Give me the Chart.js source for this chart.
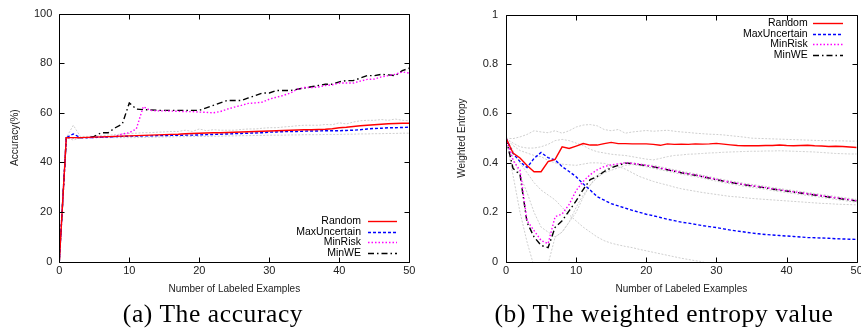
<!DOCTYPE html>
<html><head><meta charset="utf-8">
<script src="https://cdn.jsdelivr.net/npm/chart.js@4"></script>
<style>
html,body{margin:0;padding:0;background:#fff;width:861px;height:329px;overflow:hidden;position:relative}
.box{position:absolute;top:0}
.cap{position:absolute;font-family:"Liberation Serif",serif;font-size:25.5px;letter-spacing:0.6px;line-height:28px;color:#000;white-space:nowrap;transform:translateX(-50%)}
</style></head><body>
<div class="box" style="left:0;width:430px;height:300px"><canvas id="c1" width="430" height="300"></canvas></div>
<div class="box" style="left:430px;width:440px;height:300px"><canvas id="c2" width="440" height="300"></canvas></div>
<div class="cap" style="left:213px;top:300px">(a) The accuracy</div>
<div class="cap" style="left:664px;top:300px">(b) The weighted entropy value</div>
<script>
// ---------- data ----------
const xs = [0,1,2,3,4,5,6,7,8,9,10,11,12,13,14,15,16,17,18,19,20,21,22,23,24,25,26,27,28,29,30,31,32,33,34,35,36,37,38,39,40,41,42,43,44,45,46,47,48,49,50];
const seriesNames = ["Random","MaxUncertain","MinRisk","MinWE"];

// (a) accuracy (%)
const accRandom = [0,50,50,50,50.1,50.2,50.3,50.4,50.5,50.6,50.7,50.8,50.9,51,51.1,51.2,51.3,51.4,51.6,51.7,51.8,51.9,52,52,52.1,52.2,52.3,52.4,52.5,52.6,52.7,52.8,52.9,53,53.1,53.2,53.2,53.3,53.4,53.6,54,54.2,54.5,54.8,55,55.2,55.4,55.6,55.7,55.8,55.8];
const accMaxUnc = [0,50,51.5,50,50,50.1,50.2,50.3,50.4,50.5,50.6,50.6,50.7,50.7,50.8,50.8,50.9,50.9,51,51,51.1,51.2,51.3,51.4,51.5,51.6,51.7,51.8,51.9,52,52.2,52.3,52.4,52.5,52.5,52.6,52.7,52.7,52.8,52.8,52.8,52.9,53,53.2,53.5,53.7,53.8,54,54,54.1,54.2];
const accMinRisk = [0,50,50,50,50,50,50.2,50.3,50.5,51.5,52,53.5,62.5,61,60.8,60.8,60.7,60.6,60.5,60.5,60.3,60.2,60,60.5,61.5,62.3,63,63.8,64,64.3,65.5,66.3,67,68,69.5,70.2,70.2,70.4,71,71.3,72,72,72,72.8,73.5,73.6,74.5,75,75.5,76.5,76];
const accMinWE = [0,50,50,50,50,50.5,52,52,54,55.5,64,61.5,61.3,61.2,61,61,61,61,61,61,61,62,63,64,65,65,65,66,67,68,68,69,69,69,69.5,70,70.5,71,71.5,71.5,72.5,73,73,74,75,75,75.5,75.3,75,77,78];
const accRunHigh = [0,50,55,50.5,50.5,50.6,50.8,51,51.2,51.5,51.7,51.8,52,52,52.2,52.3,52.5,52.5,53,52.5,53.5,52.8,53.2,53,53,53,53.3,53.5,53.5,53.8,54,54,54.3,54.5,54.8,55,55,55,55.3,55.2,56,55.5,56.3,56.8,57,57,57.3,57,57.5,57,56.8];
const accRunLow = [0,50,49,50,50,50,50,50,50,50,50,50,50.1,50.2,50.2,50.3,50.3,50.4,50.4,50.5,50.5,50.5,50.6,50.6,50.7,50.7,50.8,50.8,50.9,50.9,51,51,51,51.1,51.1,51.2,51.2,51.2,51.3,51.3,51.3,51.4,51.4,51.5,51.5,51.6,51.6,51.7,51.7,51.8,51.8];

// (b) weighted entropy
const weRandom = [0.5,0.44,0.42,0.389,0.364,0.364,0.405,0.414,0.465,0.458,0.468,0.478,0.472,0.472,0.478,0.483,0.478,0.478,0.477,0.477,0.477,0.475,0.471,0.477,0.475,0.476,0.475,0.477,0.476,0.477,0.479,0.476,0.473,0.47,0.469,0.469,0.469,0.47,0.47,0.472,0.47,0.469,0.47,0.471,0.469,0.468,0.466,0.467,0.466,0.464,0.462];
const weMaxUnc = [0.5,0.438,0.405,0.381,0.418,0.442,0.421,0.412,0.385,0.365,0.344,0.315,0.29,0.263,0.249,0.235,0.226,0.217,0.208,0.2,0.192,0.186,0.179,0.172,0.166,0.16,0.156,0.151,0.146,0.142,0.138,0.133,0.128,0.124,0.12,0.116,0.113,0.11,0.108,0.106,0.104,0.102,0.1,0.098,0.097,0.096,0.095,0.093,0.092,0.091,0.09];
const weMinRisk = [0.5,0.41,0.37,0.166,0.126,0.086,0.073,0.182,0.193,0.232,0.288,0.325,0.352,0.372,0.385,0.392,0.396,0.4,0.398,0.394,0.39,0.385,0.379,0.373,0.367,0.361,0.356,0.351,0.345,0.339,0.333,0.327,0.322,0.317,0.312,0.308,0.304,0.3,0.295,0.291,0.287,0.283,0.279,0.275,0.271,0.267,0.263,0.259,0.255,0.251,0.247];
const weMinWE = [0.5,0.378,0.352,0.159,0.1,0.066,0.057,0.139,0.166,0.206,0.246,0.292,0.332,0.345,0.365,0.38,0.39,0.399,0.397,0.393,0.389,0.384,0.378,0.372,0.366,0.36,0.355,0.35,0.344,0.338,0.332,0.326,0.321,0.316,0.311,0.307,0.303,0.299,0.294,0.29,0.286,0.282,0.278,0.274,0.27,0.266,0.262,0.258,0.254,0.25,0.246];
const weRunA = [0.5,0.498,0.505,0.515,0.53,0.525,0.522,0.53,0.52,0.53,0.545,0.553,0.555,0.55,0.535,0.53,0.535,0.52,0.525,0.528,0.531,0.528,0.53,0.532,0.528,0.525,0.523,0.52,0.518,0.516,0.515,0.513,0.51,0.507,0.504,0.5,0.499,0.498,0.497,0.496,0.495,0.494,0.493,0.492,0.491,0.49,0.49,0.489,0.489,0.488,0.488];
const weRunB = [0.5,0.48,0.465,0.46,0.46,0.465,0.475,0.49,0.495,0.49,0.48,0.47,0.455,0.445,0.44,0.435,0.432,0.43,0.425,0.42,0.415,0.412,0.418,0.425,0.43,0.432,0.435,0.436,0.438,0.44,0.441,0.443,0.444,0.445,0.446,0.447,0.447,0.448,0.448,0.449,0.448,0.447,0.446,0.445,0.444,0.442,0.44,0.438,0.437,0.436,0.436];
const weRunC = [0.5,0.47,0.45,0.44,0.43,0.425,0.41,0.4,0.395,0.392,0.39,0.395,0.4,0.4,0.398,0.39,0.385,0.375,0.36,0.345,0.335,0.325,0.317,0.31,0.302,0.295,0.29,0.285,0.28,0.276,0.272,0.268,0.264,0.262,0.259,0.256,0.254,0.252,0.25,0.248,0.246,0.244,0.242,0.24,0.238,0.236,0.235,0.233,0.232,0.231,0.23];
const weRunD = [0.5,0.45,0.4,0.36,0.32,0.29,0.27,0.25,0.22,0.19,0.165,0.14,0.12,0.1,0.085,0.075,0.068,0.062,0.057,0.05,0.044,0.038,0.032,0.026,0.02,0.014,0.009,0.004,0,-0.01,null,null,null,null,null,null,null,null,null,null,null,null,null,null,null,null,null,null,null,null,null];
const weRunE = [0.5,0.35,0.2,0.08,-0.02,-0.05,-0.01,0.1,0.12,0.16,0.22,0.27,0.31,0.35,0.37,0.385,0.395,0.402,0.4,0.396,0.392,0.39,0.384,0.378,0.372,0.366,0.361,0.356,0.35,0.344,0.338,0.332,0.327,0.322,0.317,0.313,0.309,0.305,0.3,0.296,0.292,0.288,0.284,0.28,0.276,0.272,0.268,0.264,0.26,0.256,0.252];
const weRunF = [0.5,0.42,0.35,0.28,0.2,0.14,0.12,0.1,0.12,0.16,0.2,0.26,0.31,0.34,0.36,0.37,0.38,0.39,0.393,0.389,0.384,0.378,0.372,0.366,0.36,0.354,0.349,0.344,0.338,0.332,0.326,0.32,0.315,0.31,0.305,0.301,0.297,0.293,0.288,0.284,0.28,0.276,0.272,0.268,0.264,0.26,0.256,0.252,0.248,0.244,0.24];

// ---------- styles ----------
const FONT = "'Liberation Sans', Arial, sans-serif";
const STY = [
  {color:'#ff0000', dash:[]},
  {color:'#0000ff', dash:[3,2]},
  {color:'#ff00ff', dash:[1.5,2]},
  {color:'#000000', dash:[6,3,1.5,3]}
];
const pts = arr => xs.map((x,i)=>({x:x, y:arr[i]}));
function mainSets(arrs){
  return arrs.map((a,i)=>({label:seriesNames[i], data:pts(a), borderColor:STY[i].color, borderDash:STY[i].dash,
    borderWidth:1.4, pointRadius:0, tension:0, fill:false, order:0, inLegend:true}));
}
function greySets(arrs){
  return arrs.map((a,i)=>({label:'run'+i, data:pts(a), borderColor:'#cfcfcf', borderDash:[2,1.5],
    borderWidth:1, pointRadius:0, tension:0, fill:false, order:1, inLegend:false}));
}

const framePlugin = {
  id:'frame',
  afterDatasetsDraw(chart, args, o){
    const {ctx, chartArea:a, scales:{x,y}} = chart;
    ctx.save();
    ctx.strokeStyle='#000'; ctx.lineWidth=1; ctx.setLineDash([]);
    const l=Math.round(a.left)+0.5, t=Math.round(a.top)+0.5, r=Math.round(a.right)+0.5, b=Math.round(a.bottom)+0.5;
    ctx.beginPath();
    ctx.rect(l,t,r-l,b-t);
    const L=5;
    x.ticks.forEach(tk=>{const p=Math.round(x.getPixelForValue(tk.value))+0.5;
      ctx.moveTo(p,b); ctx.lineTo(p,b-L); ctx.moveTo(p,t); ctx.lineTo(p,t+L);});
    y.ticks.forEach(tk=>{const p=Math.round(y.getPixelForValue(tk.value))+0.5;
      ctx.moveTo(l,p); ctx.lineTo(l+L,p); ctx.moveTo(r,p); ctx.lineTo(r-L,p);});
    ctx.stroke();
    // legend
    const g=o.legend;
    ctx.font = "10.5px " + FONT;
    ctx.textAlign='right'; ctx.textBaseline='middle';
    const sets = chart.data.datasets.filter(d=>d.inLegend);
    const y0 = g.fromBottom ? a.bottom - g.y0 : a.top + g.y0;
    sets.forEach((d,i)=>{
      const yy = Math.round(y0 + i*g.dy)+0.5;
      ctx.fillStyle='#000';
      ctx.fillText(d.label, a.right - g.textR, yy);
      ctx.strokeStyle=d.borderColor; ctx.lineWidth=d.borderWidth; ctx.setLineDash(d.borderDash);
      ctx.beginPath(); ctx.moveTo(a.right - g.s0, yy); ctx.lineTo(a.right - g.s1, yy); ctx.stroke();
    });
    ctx.restore();
  }
};

function makeChart(id, sets, yMax, yStep, yTitle, cfg){
  return new Chart(document.getElementById(id), {
    type:'line',
    data:{datasets:sets},
    plugins:[framePlugin],
    options:{
      responsive:false, animation:false, devicePixelRatio:1,
      layout:{padding:{left:0, top:cfg.top, right:cfg.right, bottom:0}},
      plugins:{legend:{display:false}, tooltip:{enabled:false}, frame:{legend:cfg.legend}},
      scales:{
        x:{type:'linear', min:0, max:50,
          ticks:{stepSize:10, color:'#222', padding:3, font:{family:FONT, size:11}, maxRotation:0},
          grid:{display:false, drawTicks:false}, border:{display:false},
          title:{display:true, text:'Number of Labeled Examples', color:'#222', font:{family:FONT, size:10}, padding:{top:0,bottom:cfg.xTitlePad}},
          afterFit:s=>{s.height=cfg.xH;}},
        y:{type:'linear', min:0, max:yMax,
          ticks:{stepSize:yStep, color:'#222', padding:cfg.yTickPad, font:{family:FONT, size:11},
            callback:v=>String(Math.round(v*10)/10)},
          grid:{display:false, drawTicks:false}, border:{display:false},
          title:{display:true, text:yTitle, color:'#222', font:{family:FONT, size:10}, padding:{top:cfg.yTitlePad,bottom:0}},
          afterFit:s=>{s.width=cfg.yW;}}
      }
    }
  });
}

makeChart('c1', mainSets([accRandom,accMaxUnc,accMinRisk,accMinWE]).concat(greySets([accRunHigh,accRunLow])),
  100, 20, 'Accuracy(%)',
  {top:10.7, right:20.7, xH:38.3, yW:59.3, yTickPad:7, yTitlePad:9.7, xTitlePad:5,
   legend:{fromBottom:true, y0:40.7, dy:10.6, textR:48.3, s0:41.3, s1:12.3}});

makeChart('c2', mainSets([weRandom,weMaxUnc,weMinRisk,weMinWE]).concat(greySets([weRunA,weRunB,weRunC,weRunD,weRunE,weRunF])),
  1, 0.2, 'Weighted Entropy',
  {top:10.7, right:13.3, xH:38.3, yW:76, yTickPad:8, yTitlePad:26, xTitlePad:5,
   legend:{fromBottom:false, y0:8.3, dy:10.7, textR:49, s0:43.7, s1:13.7}});
</script>
</body></html>
